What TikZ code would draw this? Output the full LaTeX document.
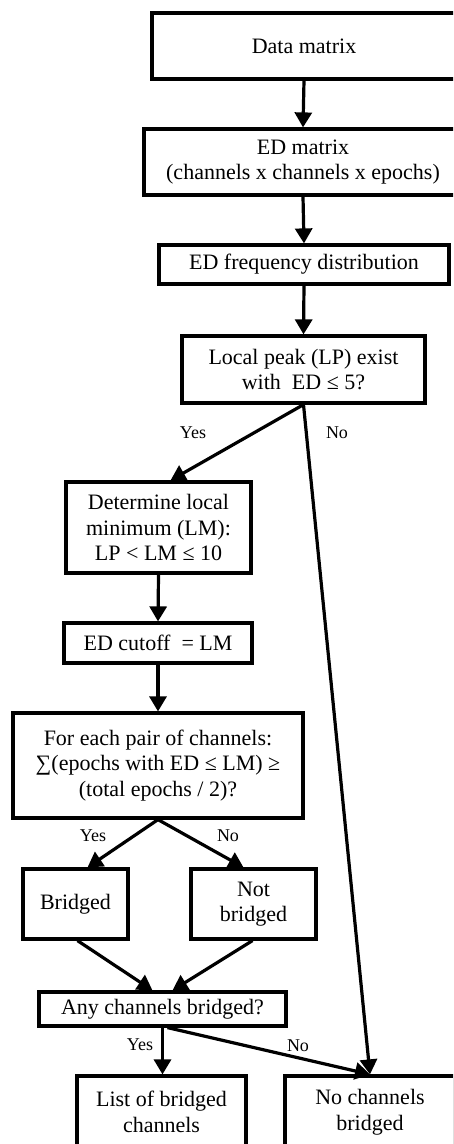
\documentclass[tikz,border=0pt]{standalone}
\usepackage{fontspec}
\setmainfont{Liberation Serif}
\usetikzlibrary{arrows.meta,calc}
\begin{document}
\begin{tikzpicture}[x=1pt,y=-1pt,
  box/.style={draw,line width=3.2pt,rectangle,inner sep=0pt,align=center,
    font=\fontsize{22}{25.5}\selectfont},
  arr/.style={line width=3.2pt,-{Triangle[length=15pt,width=17pt]}},
  lab/.style={font=\fontsize{18}{20}\selectfont,inner sep=0pt}]
\useasboundingbox (0,0) rectangle (453,1144);
\fill[white] (0,0) rectangle (453,1144);
\clip (0,0) rectangle (453,1144);
\node[box,minimum width=304pt,minimum height=66pt] (data) at (304,46) {Data matrix};
\node[box,minimum width=318pt,minimum height=66pt] (edm) at (303,162) {ED matrix\\(channels x channels x epochs)};
\node[box,minimum width=290pt,minimum height=39pt] (edf) at (304,264.5) {ED frequency distribution};
\node[box,minimum width=243pt,minimum height=67pt] (lp) at (303.5,369.5) {Local peak (LP) exist\\with\ \ ED ≤ 5?};
\node[box,minimum width=185pt,minimum height=91pt] (det) at (158.5,527.5) {Determine local\\minimum (LM):\\LP < LM ≤ 10};
\node[box,minimum width=188pt,minimum height=40pt] (cut) at (158,643) {ED cutoff\ \ = LM};
\node[box,minimum width=290pt,minimum height=105pt] (each) at (158,765.5) {For each pair of channels:\\∑(epochs with ED ≤ LM) ≥\\(total epochs / 2)?};
\node[box,minimum width=105pt,minimum height=70pt] (br) at (75.5,904) {Bridged};
\node[box,minimum width=125pt,minimum height=70pt] (nbr) at (253.5,904) {Not\\bridged};
\node[box,minimum width=247pt,minimum height=34pt] (any) at (162.5,1009) {Any channels bridged?};
\node[box,minimum width=169pt,minimum height=72pt] (list) at (161.5,1112) {List of bridged\\channels};
\node[box,minimum width=170pt,minimum height=72pt] (nocb) at (370,1112) {No channels\\bridged};
\draw[arr] (data.south) -- (edm.north);
\draw[arr] (edm.south) -- (edf.north);
\draw[arr] (edf.south) -- (lp.north);
\draw[arr] (lp.south) -- ($(det.north)+(12,0)$);
\draw[arr] (lp.south) -- (nocb.north);
\draw[arr] (det.south) -- (cut.north);
\draw[arr] (cut.south) -- (each.north);
\draw[arr] (each.south) -- ($(br.north)+(12,0)$);
\draw[arr] (each.south) -- ($(nbr.north)+(-10,0)$);
\draw[arr] ($(br.south)+(2,0)$) -- ($(any.north)+(-10,0)$);
\draw[arr] ($(nbr.south)+(-1,0)$) -- ($(any.north)+(10,0)$);
\draw[arr] (any.south) -- (any.south |- list.north);
\draw[arr] ($(any.south)+(5,0)$) -- (nocb.north);
\node[lab] (y1) at (193,433) {Yes};
\node[lab] (n1) at (337,433) {No};
\node[lab] (y2) at (93,836) {Yes};
\node[lab] (n2) at (228,836) {No};
\node[lab] (y3) at (140,1045) {Yes};
\node[lab] (n3) at (298,1046) {No};
\end{tikzpicture}
\end{document}
